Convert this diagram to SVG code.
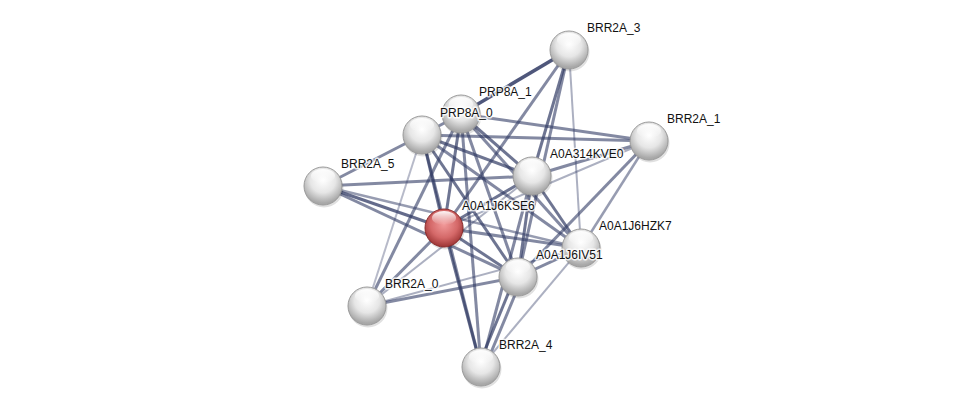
<svg xmlns="http://www.w3.org/2000/svg" width="976" height="412" viewBox="0 0 976 412">
<style>
.e{stroke:rgb(48,58,100);fill:none;stroke-linecap:butt}
.t{font-family:"Liberation Sans",Arial,sans-serif;font-size:12px;fill:#111;stroke:#fff;stroke-width:3px;stroke-opacity:.8;paint-order:stroke;stroke-linejoin:round}
</style>
<defs>
<radialGradient id="g" cx="50%" cy="35%" r="60%">
<stop offset="0" stop-color="#ffffff"/><stop offset="0.55" stop-color="#e6e6e6"/><stop offset="1" stop-color="#a8a8a8"/>
</radialGradient>
<radialGradient id="r" cx="50%" cy="40%" r="60%">
<stop offset="0" stop-color="#f29a9a"/><stop offset="0.6" stop-color="#d46868"/><stop offset="1" stop-color="#9c3434"/>
</radialGradient>
<linearGradient id="hl" x1="0" y1="0" x2="0" y2="1">
<stop offset="0" stop-color="#fff" stop-opacity=".95"/><stop offset="1" stop-color="#fff" stop-opacity="0"/>
</linearGradient>
<g id="n"><circle r="19.5" cx="1" cy="2" fill="#000" opacity=".12"/><circle r="19" fill="url(#g)" stroke="#9a9a9a" stroke-width="1"/><ellipse cx="0" cy="-10" rx="12" ry="7" fill="url(#hl)"/></g>
<g id="nr"><circle r="19.5" cx="1" cy="2" fill="#000" opacity=".12"/><circle r="19" fill="url(#r)" stroke="#8a2a2a" stroke-width="1"/><ellipse cx="0" cy="-10" rx="12" ry="7" fill="url(#hl)"/></g>
</defs>
<rect width="976" height="412" fill="#fff"/>
<g id="edges">
<line class="e" x1="569" y1="50" x2="461" y2="114" stroke-width="3.5" stroke-opacity=".85"/>
<line class="e" x1="569" y1="50" x2="532" y2="176" stroke-width="3" stroke-opacity=".7"/>
<line class="e" x1="569" y1="50" x2="518" y2="277" stroke-width="3" stroke-opacity=".6"/>
<line class="e" x1="569" y1="50" x2="444" y2="228" stroke-width="3" stroke-opacity=".6"/>
<line class="e" x1="569" y1="50" x2="581" y2="248" stroke-width="2" stroke-opacity=".4"/>
<line class="e" x1="461" y1="114" x2="649" y2="141" stroke-width="3" stroke-opacity=".6"/>
<line class="e" x1="422" y1="135" x2="649" y2="141" stroke-width="3" stroke-opacity=".6"/>
<line class="e" x1="422" y1="135" x2="323" y2="186" stroke-width="3" stroke-opacity=".6"/>
<line class="e" x1="422" y1="135" x2="461" y2="114" stroke-width="3" stroke-opacity=".6"/>
<line class="e" x1="323" y1="186" x2="532" y2="176" stroke-width="3" stroke-opacity=".6"/>
<line class="e" x1="323" y1="186" x2="444" y2="228" stroke-width="3" stroke-opacity=".75"/>
<line class="e" x1="323" y1="186" x2="518" y2="277" stroke-width="3" stroke-opacity=".6"/>
<line class="e" x1="323" y1="186" x2="581" y2="248" stroke-width="2.5" stroke-opacity=".5"/>
<line class="e" x1="422" y1="135" x2="444" y2="228" stroke-width="3" stroke-opacity=".7"/>
<line class="e" x1="422" y1="135" x2="532" y2="176" stroke-width="3" stroke-opacity=".7"/>
<line class="e" x1="422" y1="135" x2="518" y2="277" stroke-width="3" stroke-opacity=".7"/>
<line class="e" x1="422" y1="135" x2="581" y2="248" stroke-width="3" stroke-opacity=".6"/>
<line class="e" x1="422" y1="135" x2="367" y2="306" stroke-width="2" stroke-opacity=".35"/>
<line class="e" x1="422" y1="135" x2="481" y2="367" stroke-width="3" stroke-opacity=".6"/>
<line class="e" x1="461" y1="114" x2="444" y2="228" stroke-width="3" stroke-opacity=".7"/>
<line class="e" x1="461" y1="114" x2="532" y2="176" stroke-width="3" stroke-opacity=".7"/>
<line class="e" x1="461" y1="114" x2="518" y2="277" stroke-width="3" stroke-opacity=".6"/>
<line class="e" x1="461" y1="114" x2="581" y2="248" stroke-width="3" stroke-opacity=".6"/>
<line class="e" x1="461" y1="114" x2="367" y2="306" stroke-width="3" stroke-opacity=".6"/>
<line class="e" x1="461" y1="114" x2="481" y2="367" stroke-width="3" stroke-opacity=".6"/>
<line class="e" x1="532" y1="176" x2="649" y2="141" stroke-width="3" stroke-opacity=".6"/>
<line class="e" x1="532" y1="176" x2="444" y2="228" stroke-width="3" stroke-opacity=".7"/>
<line class="e" x1="532" y1="176" x2="518" y2="277" stroke-width="3" stroke-opacity=".7"/>
<line class="e" x1="532" y1="176" x2="581" y2="248" stroke-width="3" stroke-opacity=".7"/>
<line class="e" x1="532" y1="176" x2="367" y2="306" stroke-width="2" stroke-opacity=".4"/>
<line class="e" x1="532" y1="176" x2="481" y2="367" stroke-width="3" stroke-opacity=".6"/>
<line class="e" x1="649" y1="141" x2="581" y2="248" stroke-width="2.5" stroke-opacity=".5"/>
<line class="e" x1="649" y1="141" x2="518" y2="277" stroke-width="3" stroke-opacity=".6"/>
<line class="e" x1="649" y1="141" x2="444" y2="228" stroke-width="2" stroke-opacity=".4"/>
<line class="e" x1="444" y1="228" x2="581" y2="248" stroke-width="3" stroke-opacity=".6"/>
<line class="e" x1="444" y1="228" x2="518" y2="277" stroke-width="3" stroke-opacity=".7"/>
<line class="e" x1="444" y1="228" x2="367" y2="306" stroke-width="3" stroke-opacity=".6"/>
<line class="e" x1="444" y1="228" x2="481" y2="367" stroke-width="3" stroke-opacity=".7"/>
<line class="e" x1="581" y1="248" x2="518" y2="277" stroke-width="3" stroke-opacity=".6"/>
<line class="e" x1="581" y1="248" x2="481" y2="367" stroke-width="2" stroke-opacity=".4"/>
<line class="e" x1="581" y1="248" x2="367" y2="306" stroke-width="2" stroke-opacity=".4"/>
<line class="e" x1="518" y1="277" x2="367" y2="306" stroke-width="3" stroke-opacity=".6"/>
<line class="e" x1="515" y1="277" x2="478" y2="367" stroke-width="3" stroke-opacity=".7"/>
<line class="e" x1="522" y1="278" x2="485" y2="367" stroke-width="3" stroke-opacity=".6"/>
</g>
<g id="BRR2A_3"><use href="#n" x="569" y="50"/><text class="t" x="587" y="32">BRR2A_3</text></g>
<g id="PRP8A_1"><use href="#n" x="461" y="114"/><text class="t" x="479" y="96">PRP8A_1</text></g>
<g id="PRP8A_0"><use href="#n" x="422" y="135"/><text class="t" x="440" y="117">PRP8A_0</text></g>
<g id="BRR2A_1"><use href="#n" x="649" y="141"/><text class="t" x="667" y="123">BRR2A_1</text></g>
<g id="A0A314KVE0"><use href="#n" x="532" y="176"/><text class="t" x="550" y="158">A0A314KVE0</text></g>
<g id="BRR2A_5"><use href="#n" x="323" y="186"/><text class="t" x="341" y="168">BRR2A_5</text></g>
<g id="A0A1J6KSE6"><use href="#nr" x="444" y="228"/><text class="t" x="462" y="210">A0A1J6KSE6</text></g>
<g id="A0A1J6HZK7"><use href="#n" x="581" y="248"/><text class="t" x="599" y="230">A0A1J6HZK7</text></g>
<g id="A0A1J6IV51"><use href="#n" x="518" y="277"/><text class="t" x="536" y="259">A0A1J6IV51</text></g>
<g id="BRR2A_0"><use href="#n" x="367" y="306"/><text class="t" x="385" y="288">BRR2A_0</text></g>
<g id="BRR2A_4"><use href="#n" x="481" y="367"/><text class="t" x="499" y="349">BRR2A_4</text></g>
</svg>
